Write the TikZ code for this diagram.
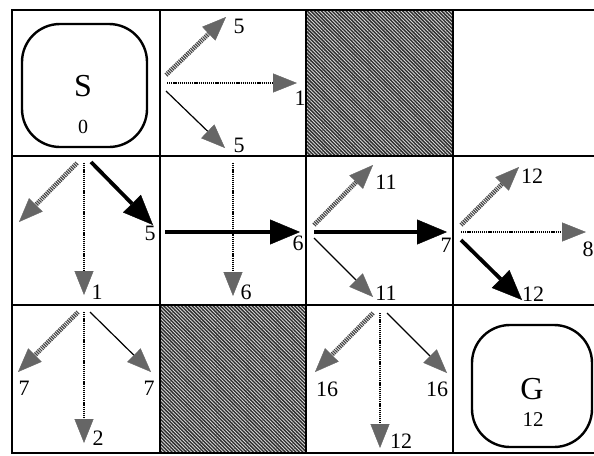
\documentclass[tikz,border=0pt]{standalone}
\usepackage{fontspec}
\setmainfont{Liberation Serif}
\usetikzlibrary{arrows.meta,patterns.meta}

\tikzset{
  x=1pt, y=-1pt,
  wall/.style={fill=black!82,
    postaction={pattern={Lines[angle=-45,distance=2.5pt,line width=0.85pt]},
                pattern color=black!15}},
  gridline/.style={line width=2.2pt, line cap=rect},
  roundbox/.style={draw, line width=2.4pt, rounded corners=38pt, inner sep=0pt},
  lbl/.style={inner sep=0pt, font=\fontsize{22}{22}\selectfont},
  biglbl/.style={inner sep=0pt, font=\fontsize{32}{32}\selectfont},
  smalllbl/.style={inner sep=0pt, font=\fontsize{20}{20}\selectfont},
  greyhead/.style={-{Triangle[length=24pt,width=19pt,line width=0.4pt,color=black!60]}},
  best/.style={line width=3.8pt, -{Triangle[length=30pt,width=25pt,line width=0.4pt]}},
  broad/.style={greyhead, line width=4.6pt, draw=black!72, dash pattern=on 1.2pt off 0.9pt},
  dotline/.style={greyhead, line width=1.5pt, dash pattern=on 1.2pt off 0.9pt},
  thinline/.style={greyhead, line width=1.2pt}
}

\begin{document}
\begin{tikzpicture}
\useasboundingbox (0,0) rectangle (594,455);

% blocked cells
\path[wall] (306,10) rectangle (453,156);
\path[wall] (160,305) rectangle (306,453);

% grid
\foreach \yy in {10,156,305,453} \draw[gridline] (12,\yy) -- (600,\yy);
\foreach \xx in {12,160,306,453} \draw[gridline] (\xx,10) -- (\xx,453);

% start and goal states
\node[roundbox, minimum width=125pt, minimum height=123pt] (sbox) at (84.5,85.5) {};
\node[biglbl] (s) at (83,86) {S};
\node[smalllbl] (s0) at (83,127) {0};
\node[roundbox, minimum width=120pt, minimum height=122pt] (gbox) at (532,386) {};
\node[biglbl] (g) at (532,389) {G};
\node[lbl, font=\fontsize{21}{21}\selectfont] (g12) at (533,420) {12};

% action end points
\coordinate (a1s) at (166,75);  \coordinate (a1t) at (226,17);
\coordinate (a2s) at (167,83);  \coordinate (a2t) at (297,83);
\coordinate (a3s) at (166,91);  \coordinate (a3t) at (225,148);

\coordinate (b1s) at (77,163);  \coordinate (b1t) at (19,222);
\coordinate (b2s) at (84,163);  \coordinate (b2t) at (84,295);
\coordinate (b3s) at (91,162);  \coordinate (b3t) at (153,225);

\coordinate (c1s) at (165,232); \coordinate (c1t) at (300,232);
\coordinate (c2s) at (233,163); \coordinate (c2t) at (233,296);

\coordinate (d1s) at (314,225); \coordinate (d1t) at (373,165);
\coordinate (d2s) at (314,232); \coordinate (d2t) at (447,232);
\coordinate (d3s) at (314,238); \coordinate (d3t) at (373,297);

\coordinate (e1s) at (461,225); \coordinate (e1t) at (519,167);
\coordinate (e2s) at (461,232); \coordinate (e2t) at (586,232);
\coordinate (e3s) at (461,240); \coordinate (e3t) at (522,300);

\coordinate (f1s) at (78,312);  \coordinate (f1t) at (18,372);
\coordinate (f2s) at (84,312);  \coordinate (f2t) at (84,443);
\coordinate (f3s) at (90,312);  \coordinate (f3t) at (151,372);

\coordinate (h1s) at (373,313); \coordinate (h1t) at (315,372);
\coordinate (h2s) at (380,313); \coordinate (h2t) at (380,448);
\coordinate (h3s) at (387,313); \coordinate (h3t) at (447,373);

% actions
\draw[broad]    (a1s) -- (a1t);
\draw[dotline]  (a2s) -- (a2t);
\draw[thinline] (a3s) -- (a3t);

\draw[broad]    (b1s) -- (b1t);
\draw[dotline]  (b2s) -- (b2t);
\draw[best]     (b3s) -- (b3t);

\draw[dotline]  (c2s) -- (c2t);
\draw[best]     (c1s) -- (c1t);

\draw[broad]    (d1s) -- (d1t);
\draw[best]     (d2s) -- (d2t);
\draw[thinline] (d3s) -- (d3t);

\draw[broad]    (e1s) -- (e1t);
\draw[dotline]  (e2s) -- (e2t);
\draw[best]     (e3s) -- (e3t);

\draw[broad]    (f1s) -- (f1t);
\draw[dotline]  (f2s) -- (f2t);
\draw[thinline] (f3s) -- (f3t);

\draw[broad]    (h1s) -- (h1t);
\draw[dotline]  (h2s) -- (h2t);
\draw[thinline] (h3s) -- (h3t);

% values
\node[lbl] (va1) at (239,26) {5};
\node[lbl] (va2) at (300,98) {1};
\node[lbl] (va3) at (239,145) {5};
\node[lbl] (vb3) at (150,233) {5};
\node[lbl] (vb2) at (97,292) {1};
\node[lbl] (vc1) at (298,243) {6};
\node[lbl] (vc2) at (246,292) {6};
\node[lbl] (vd1) at (386,182) {11};
\node[lbl] (vd2) at (446,245) {7};
\node[lbl] (vd3) at (386,293) {11};
\node[lbl] (ve1) at (532,176) {12};
\node[lbl] (ve2) at (588,249) {8};
\node[lbl] (ve3) at (533,294) {12};
\node[lbl] (vf1) at (24,388) {7};
\node[lbl] (vf3) at (149,388) {7};
\node[lbl] (vf2) at (98,438) {2};
\node[lbl] (vh1) at (327,389) {16};
\node[lbl] (vh3) at (437,389) {16};
\node[lbl] (vh2) at (401,441) {12};
\end{tikzpicture}
\end{document}
